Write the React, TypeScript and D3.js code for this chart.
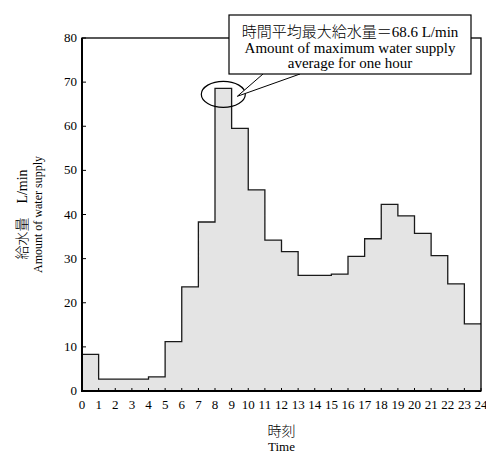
import { useRef, useEffect } from "react";
import * as d3 from "d3";

// 時刻 0..23 の時間平均給水量 (L/min)
const hours = d3.range(0, 24);
const supply = [
  8.3, 2.7, 2.7, 2.7, 3.2, 11.2, 23.6, 38.3, 68.6, 59.5, 45.6, 34.2,
  31.6, 26.2, 26.2, 26.5, 30.5, 34.5, 42.3, 39.7, 35.7, 30.7, 24.3, 15.2,
];
const xTicks = d3.range(0, 25);
const yTicks = [0, 10, 20, 30, 40, 50, 60, 70, 80];

const calloutJa = "時間平均最大給水量＝68.6 L/min";
const calloutEn1 = "Amount of maximum water supply";
const calloutEn2 = "average for one hour";

const W = 486;
const H = 455;
const FONT = "'Liberation Serif', 'DejaVu Serif', 'Noto Sans CJK JP', serif";

const App = () => {
  const svgRef = useRef<SVGSVGElement>(null);

  useEffect(() => {
    const svg = d3.select(svgRef.current).style("font-family", FONT);
    svg.selectAll("*").remove();

    const margin = { left: 82, right: 5, top: 38, bottom: 64 };
    const x = d3.scaleLinear().domain([0, 24]).range([margin.left, W - margin.right]);
    const y = d3.scaleLinear().domain([0, 80]).range([H - margin.bottom, margin.top]);

    // ステップ用データ（最後の値を24時まで伸ばす）
    const pts = hours.map((h, i) => ({ h, v: supply[i] }));
    pts.push({ h: 24, v: supply[supply.length - 1] });

    const area = d3
      .area<{ h: number; v: number }>()
      .curve(d3.curveStepAfter)
      .x((d) => x(d.h))
      .y0(y(0))
      .y1((d) => y(d.v));
    const line = d3
      .line<{ h: number; v: number }>()
      .curve(d3.curveStepAfter)
      .x((d) => x(d.h))
      .y((d) => y(d.v));

    svg.append("path").attr("d", area(pts)).attr("fill", "#e4e4e4");
    svg
      .append("path")
      .attr("d", line(pts))
      .attr("fill", "none")
      .attr("stroke", "#1a1a1a")
      .attr("stroke-width", 1.3);

    // 枠
    svg
      .append("rect")
      .attr("x", x(0))
      .attr("y", y(80))
      .attr("width", x(24) - x(0))
      .attr("height", y(0) - y(80))
      .attr("fill", "none")
      .attr("stroke", "#000")
      .attr("stroke-width", 1.3);
    svg
      .append("path")
      .attr("d", `M${x(0)},${y(80)}V${y(0)}H${x(24)}`)
      .attr("fill", "none")
      .attr("stroke", "#000")
      .attr("stroke-width", 2);

    // 目盛り
    const gx = svg.append("g");
    gx.selectAll("line")
      .data(xTicks)
      .join("line")
      .attr("x1", (d) => x(d))
      .attr("x2", (d) => x(d))
      .attr("y1", y(0))
      .attr("y2", y(0) - 3)
      .attr("stroke", "#000");
    gx.selectAll("text")
      .data(xTicks)
      .join("text")
      .attr("x", (d) => x(d))
      .attr("y", y(0) + 18)
      .attr("text-anchor", "middle")
      .attr("font-size", 13)
      .text((d) => d);

    const gy = svg.append("g");
    gy.selectAll("line")
      .data(yTicks)
      .join("line")
      .attr("x1", x(0))
      .attr("x2", x(0) + 4)
      .attr("y1", (d) => y(d))
      .attr("y2", (d) => y(d))
      .attr("stroke", "#000");
    gy.selectAll("text")
      .data(yTicks)
      .join("text")
      .attr("x", x(0) - 5)
      .attr("y", (d) => y(d) + 4)
      .attr("text-anchor", "end")
      .attr("font-size", 13)
      .text((d) => d);

    // 軸ラベル
    const cy = (y(0) + y(80)) / 2;
    const yl = svg
      .append("text")
      .attr("transform", `translate(27,${cy}) rotate(-90)`)
      .attr("text-anchor", "middle")
      .attr("font-size", 14);
    yl.append("tspan").attr("x", 0).attr("dy", 0).attr("font-weight", 300).text("給水量　L/min");
    yl.append("tspan").attr("x", 0).attr("dy", 15).attr("font-size", 12).text("Amount of water supply");

    const cx = (x(0) + x(24)) / 2;
    svg
      .append("text")
      .attr("x", cx)
      .attr("y", 436)
      .attr("text-anchor", "middle")
      .attr("font-size", 14)
      .attr("font-weight", 300)
      .text("時刻");
    svg
      .append("text")
      .attr("x", cx)
      .attr("y", 451)
      .attr("text-anchor", "middle")
      .attr("font-size", 13)
      .text("Time");

    // 最大値の楕円と吹き出し
    const peak = d3.maxIndex(supply);
    const ex = x(peak + 0.5);
    const ey = y(supply[peak]) + 6;
    svg
      .append("ellipse")
      .attr("cx", ex)
      .attr("cy", ey)
      .attr("rx", 22)
      .attr("ry", 13)
      .attr("fill", "none")
      .attr("stroke", "#000")
      .attr("stroke-width", 1.2);

    const box = { x0: 229, x1: 471, y0: 15, y1: 74 };
    const tip: [number, number] = [ex + 14, ey + 2];
    svg
      .append("polygon")
      .attr("points", `${263},${box.y1} ${tip[0]},${tip[1]} ${300},${box.y1}`)
      .attr("fill", "#fff");
    svg
      .append("path")
      .attr("d", `M263,${box.y1}L${tip[0]},${tip[1]}L300,${box.y1}`)
      .attr("fill", "none")
      .attr("stroke", "#000")
      .attr("stroke-width", 1);
    svg
      .append("rect")
      .attr("x", box.x0)
      .attr("y", box.y0)
      .attr("width", box.x1 - box.x0)
      .attr("height", box.y1 - box.y0)
      .attr("fill", "#fff")
      .attr("stroke", "#000")
      .attr("stroke-width", 1.2);
    const bc = (box.x0 + box.x1) / 2;
    svg
      .append("text")
      .attr("x", bc)
      .attr("y", 37)
      .attr("text-anchor", "middle")
      .attr("font-size", 15)
      .attr("font-weight", 300)
      .text(calloutJa);
    svg
      .append("text")
      .attr("x", bc)
      .attr("y", 53)
      .attr("text-anchor", "middle")
      .attr("font-size", 15)
      .text(calloutEn1);
    svg
      .append("text")
      .attr("x", bc)
      .attr("y", 68)
      .attr("text-anchor", "middle")
      .attr("font-size", 15)
      .text(calloutEn2);

    return () => {
      svg.selectAll("*").remove();
    };
  }, []);

  return (
    <svg
      ref={svgRef}
      width={W}
      height={H}
      style={{ position: "absolute", left: 0, top: 0, background: "#fff" }}
    ></svg>
  );
};

export default App;
